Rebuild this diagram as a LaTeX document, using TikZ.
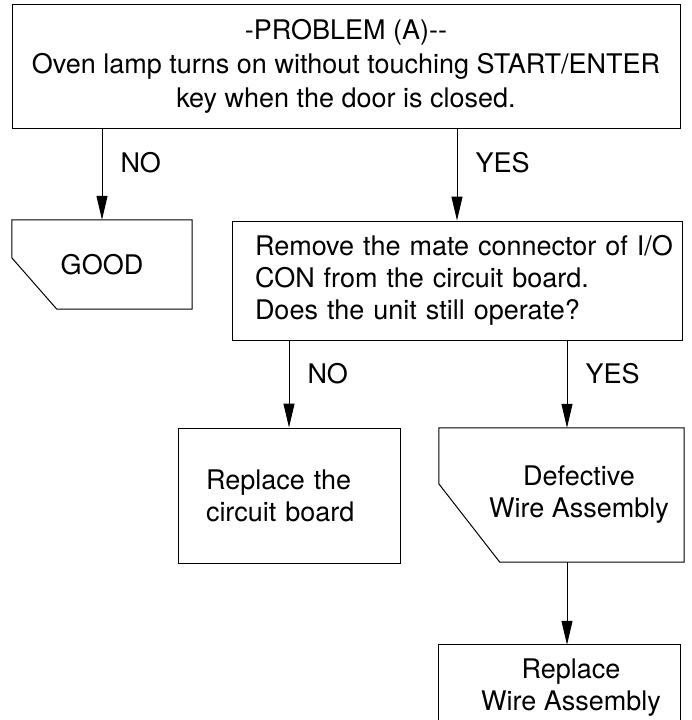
\documentclass[tikz,border=0pt]{standalone}
\usepackage{fontspec}
\setmainfont{TeX Gyre Heros}
\usetikzlibrary{positioning, arrows.meta, calc}

\tikzset{
  box/.style={draw, line width=1pt, rectangle, inner sep=0pt},
  flow/.style={-{Triangle[length=24pt, width=11pt]}, line width=1pt},
  lbl/.style={right=16pt, inner sep=2pt},
}

\begin{document}
\begin{tikzpicture}[x=1pt, y=-1pt, every node/.style={font=\fontsize{27}{32}\selectfont}]
    \path[use as bounding box, clip] (0,0) rectangle (692,720);

    % boxes
    \node[box, minimum width=668, minimum height=124, align=center,
          font=\fontsize{27}{34}\selectfont] (prob) at (346,66)
        {-PROBLEM (A)-{}-\\Oven lamp turns on without touching START/ENTER\\key when the door is closed.};
    \node[minimum width=180, minimum height=89] (good) at (102,264.5) {GOOD};
    \node[box, minimum width=450, minimum height=119, text width=404, align=left] (mid) at (457,280.5)
        {\mbox{Remove the mate connector of I/O}\\CON from the circuit board.\\Does the unit still operate?};
    \node[box, minimum width=222, minimum height=135, text width=166, align=left] (rcb) at (289,495.5)
        {Replace the\\circuit board};
    \node[minimum width=210, minimum height=134, align=center] (defect) at (579,495)
        {Defective\\Wire Assembly};
    \node[minimum width=218, minimum height=86, align=center] (fix) at (571,688)
        {Replace\\Wire Assembly};

    % outlines of the cut boxes
    \draw[line width=1pt] (good.north west) -- ++(0,38) -- ([xshift=45pt]good.south west)
        -- (good.south east) -- (good.north east) -- cycle;
    \draw[line width=1pt] ([xshift=-35pt]defect.north west) -- ++(0,56) -- ([xshift=26pt]defect.south west)
        -- (defect.south east) -- (defect.north east) -- cycle;
    \draw[line width=1pt] ([xshift=-23pt]fix.north west) rectangle (fix.south east);

    \coordinate (ycol) at (567,0);

    % arrows
    \draw[flow] (good.north |- prob.south) -- node[lbl, pos=.37] (no1) {NO} (good.north);
    \draw[flow] (mid.north |- prob.south) -- node[lbl, pos=.37] (yes1) {YES} (mid.north);
    \draw[flow] (rcb.north |- mid.south) -- node[lbl, pos=.38] (no2) {NO} (rcb.north);
    \draw[flow] (ycol |- mid.south) -- node[lbl, pos=.38] (yes2) {YES} (ycol |- defect.north);
    \draw[flow] (ycol |- defect.south) -- (ycol |- fix.north);
\end{tikzpicture}
\end{document}
